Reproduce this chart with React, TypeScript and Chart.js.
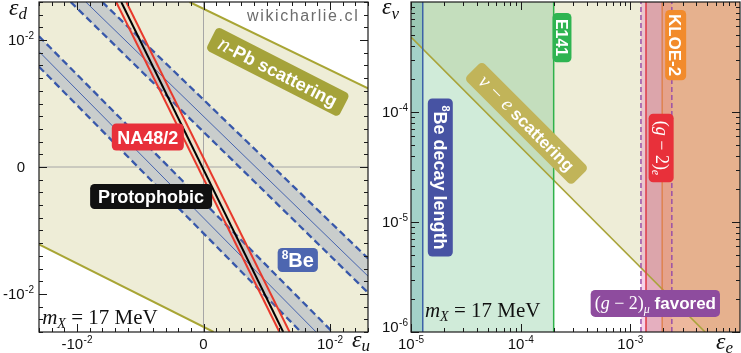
import React, { useEffect, useRef } from "react";
import { Chart, registerables } from "chart.js";
Chart.register(...registerables);

const SANS = '"Liberation Sans", Arial, Helvetica, sans-serif';
const SERIF = '"Liberation Serif", "Times New Roman", serif';

// ================= Left panel: (eps_u, eps_d) =================
const epsRange = [-0.013, 0.013];
const epsTickValues = [-0.01, 0, 0.01];
const epsTickLabels = ["-10^-2", "0", "10^-2"];

// n-Pb scattering boundaries (allowed region between them)
const nPbUpper = [{ x: -0.0011, y: 0.013 }, { x: 0.013, y: 0.0062 }];
const nPbLower = [{ x: -0.013, y: -0.0061 }, { x: 0.0008, y: -0.013 }];
// protophobic line and NA48/2 boundaries
const protophobic = [{ x: -0.0065, y: 0.013 }, { x: 0.0063, y: -0.013 }];
const na48Left = [{ x: -0.0069, y: 0.013 }, { x: 0.006, y: -0.013 }];
const na48Right = [{ x: -0.0061, y: 0.013 }, { x: 0.0068, y: -0.013 }];
// 8Be bands
const be8UpperEdgeA = [{ x: -0.0105, y: 0.013 }, { x: 0.013, y: -0.0099 }];
const be8UpperCenter = [{ x: -0.0093, y: 0.013 }, { x: 0.013, y: -0.0086 }];
const be8UpperEdgeB = [{ x: -0.008, y: 0.013 }, { x: 0.013, y: -0.0072 }];
const be8LowerEdgeA = [{ x: -0.013, y: 0.0103 }, { x: 0.0102, y: -0.013 }];
const be8LowerCenter = [{ x: -0.013, y: 0.0091 }, { x: 0.0089, y: -0.013 }];
const be8LowerEdgeB = [{ x: -0.013, y: 0.0079 }, { x: 0.0077, y: -0.013 }];

// ================= Right panel: (eps_e, eps_nu) =================
const eeRange = [1e-5, 1e-2];
const enuRange = [1e-6, 1e-3];
const eeTickValues = [1e-5, 1e-4, 1e-3];
const eeTickLabels = ["10^-5", "10^-4", "10^-3"];
const enuTickValues = [1e-6, 1e-5, 1e-4];
const enuTickLabels = ["10^-6", "10^-5", "10^-4"];
const nuEScattering = [{ x: 1e-5, y: 4.8e-4 }, { x: 4.8e-3, y: 1e-6 }];
const be8DecayLengthMax = 1.28e-5;
const e141Max = 2.0e-4;
const g2eMin = 1.39e-3;
const kloe2Min = 1.95e-3;
const g2muFavored = [1.25e-3, 2.39e-3];

// ================= annotations (data coordinates) =================
const leftTags = [
  { at: { x: -0.0044, y: 0.00236 }, angle: 0, bg: "#e8303a", padX: 5.5, h: 27, base: 6.5,
    segs: [{ t: "NA48/2", font: `bold 18px ${SANS}` }] },
  { at: { x: -0.00414, y: -0.00232 }, angle: 0, bg: "#111111", padX: 8, h: 25, base: 6.5,
    segs: [{ t: "Protophobic", font: `bold 18px ${SANS}` }] },
  { at: { x: 0.00745, y: -0.00733 }, angle: 0, bg: "#4d66b0", padX: 4, h: 24, base: 7,
    segs: [{ t: "8", font: `bold 12px ${SANS}`, dy: -8 }, { t: "Be", font: `bold 20px ${SANS}` }] },
  { at: { x: 0.00587, y: 0.00749 }, angle: 27, bg: "#a5a33a", padX: 9, h: 26, base: 6.5,
    segs: [{ t: "n", font: `italic 22px ${SERIF}` }, { t: "-Pb scattering", font: `bold 18px ${SANS}` }] },
];
const rightTags = [
  { at: { x: 2.38e-4, y: 4.75e-4 }, angle: 90, bg: "#2eb451", padX: 6, h: 19, base: 5.8,
    segs: [{ t: "E141", font: `bold 16px ${SANS}` }] },
  { at: { x: 2.59e-3, y: 4.06e-4 }, angle: 90, bg: "#f28b2c", padX: 4, h: 21, base: 6.2,
    segs: [{ t: "KLOE-2", font: `bold 17px ${SANS}` }] },
  { at: { x: 1.91e-3, y: 4.71e-5 }, angle: 90, bg: "#e8303a", padX: 7, h: 25, base: 5.5,
    segs: [
      { t: "(", font: `18px ${SERIF}` }, { t: "g", font: `italic 18px ${SERIF}` },
      { t: " \u2212 2)", font: `18px ${SERIF}` }, { t: "e", font: `italic 12px ${SERIF}`, dy: 4 },
    ] },
  { at: { x: 1.85e-5, y: 2.54e-5 }, angle: 90, bg: "#4753a3", padX: 7, h: 25, base: 6.5,
    segs: [{ t: "8", font: `bold 11px ${SANS}`, dy: -8 }, { t: "Be decay length", font: `bold 18px ${SANS}` }] },
  { at: { x: 1.13e-4, y: 7.89e-5 }, angle: 45, bg: "#c1b459", padX: 12, h: 25, base: 6,
    segs: [{ t: "\u03bd \u2212 e", font: `italic 20px ${SERIF}` }, { t: " scattering", font: `bold 17px ${SANS}` }] },
  { at: { x: 1.69e-3, y: 1.82e-6 }, angle: 0, bg: "#8e4c9e", padX: 4, h: 27, base: 6,
    segs: [
      { t: "(", font: `18px ${SERIF}` }, { t: "g", font: `italic 18px ${SERIF}` },
      { t: " \u2212 2)", font: `18px ${SERIF}` }, { t: "\u03bc", font: `italic 12px ${SERIF}`, dy: 4 },
      { t: " favored", font: `bold 17px ${SANS}` },
    ] },
];
const massTextLeft = { x: -0.01275, y: -0.01237 };
const massTextRight = { x: 1.34e-5, y: 1.37e-6 };
const watermark = { x: 0.00788, y: 0.01147 };

// ================= helpers =================
const lineDs = (data: any[], color: string, width: number, dash: number[] = []) => ({
  data, showLine: true, borderColor: color, borderWidth: width, borderDash: dash,
  pointRadius: 0, pointHoverRadius: 0, fill: false, tension: 0,
});
const areaDs = (data: any[], color: string) => ({
  data, showLine: true, borderColor: "rgba(0,0,0,0)", borderWidth: 0,
  pointRadius: 0, pointHoverRadius: 0, fill: "shape", backgroundColor: color, tension: 0,
});
const withOrder = (arr: any[]) => arr.map((d, i) => ({ ...d, order: arr.length - i }));
const vRect = (x0: number, x1: number, yr: number[]) => [
  { x: x0, y: yr[0] }, { x: x1, y: yr[0] }, { x: x1, y: yr[1] }, { x: x0, y: yr[1] },
];
const vLine = (x: number, yr: number[]) => [{ x, y: yr[0] }, { x, y: yr[1] }];

function roundRect(ctx: any, x: number, y: number, w: number, h: number, r: number) {
  ctx.beginPath();
  ctx.moveTo(x + r, y);
  ctx.lineTo(x + w - r, y);
  ctx.arcTo(x + w, y, x + w, y + r, r);
  ctx.lineTo(x + w, y + h - r);
  ctx.arcTo(x + w, y + h, x + w - r, y + h, r);
  ctx.lineTo(x + r, y + h);
  ctx.arcTo(x, y + h, x, y + h - r, r);
  ctx.lineTo(x, y + r);
  ctx.arcTo(x, y, x + r, y, r);
  ctx.closePath();
}

function drawSegs(ctx: any, segs: any[], x: number, y: number) {
  for (const s of segs) {
    ctx.font = s.font;
    ctx.fillText(s.t, x, y + (s.dy || 0));
    x += ctx.measureText(s.t).width;
  }
}

function drawTag(ctx: any, x: number, y: number, tag: any) {
  ctx.save();
  ctx.translate(x, y);
  ctx.rotate((tag.angle * Math.PI) / 180);
  let w = 0;
  for (const s of tag.segs) { ctx.font = s.font; w += ctx.measureText(s.t).width; }
  const W = w + 2 * tag.padX;
  ctx.fillStyle = tag.bg;
  roundRect(ctx, -W / 2, -tag.h / 2, W, tag.h, 4.5);
  ctx.fill();
  ctx.fillStyle = "#ffffff";
  ctx.textAlign = "left";
  ctx.textBaseline = "alphabetic";
  drawSegs(ctx, tag.segs, -w / 2, tag.base);
  ctx.restore();
}

const TICK_FONT = `15px ${SANS}`;
const EXP_FONT = `10px ${SANS}`;
function drawTickLabel(ctx: any, label: string, x: number, base: number, align: string) {
  const [b, e] = label.split("^");
  ctx.font = TICK_FONT;
  const wb = ctx.measureText(b).width;
  ctx.font = EXP_FONT;
  const we = e ? ctx.measureText(e).width + 0.5 : 0;
  const total = wb + we;
  const x0 = align === "center" ? x - total / 2 : x - total;
  ctx.textAlign = "left";
  ctx.textBaseline = "alphabetic";
  ctx.fillStyle = "#111";
  ctx.font = TICK_FONT;
  ctx.fillText(b, x0, base);
  if (e) { ctx.font = EXP_FONT; ctx.fillText(e, x0 + wb + 0.5, base - 6.5); }
}

function drawTicks(ctx: any, chart: any, xs: number[], ys: number[], len: number) {
  const a = chart.chartArea;
  const X = chart.scales.x, Y = chart.scales.y;
  ctx.beginPath();
  for (const v of xs) {
    const p = Math.round(X.getPixelForValue(v)) + 0.5;
    ctx.moveTo(p, a.bottom); ctx.lineTo(p, a.bottom - len);
    ctx.moveTo(p, a.top); ctx.lineTo(p, a.top + len);
  }
  for (const v of ys) {
    const p = Math.round(Y.getPixelForValue(v)) + 0.5;
    ctx.moveTo(a.left, p); ctx.lineTo(a.left + len, p);
    ctx.moveTo(a.right, p); ctx.lineTo(a.right - len, p);
  }
  ctx.stroke();
}

function drawFrame(ctx: any, a: any) {
  ctx.strokeStyle = "#1a1a1a";
  ctx.lineWidth = 1.2;
  ctx.strokeRect(a.left, a.top, a.right - a.left, a.bottom - a.top);
}

const axisOpt = (type: string, range: number[], size: number, horizontal: boolean) => ({
  type, min: range[0], max: range[1],
  grid: { display: false }, border: { display: false }, ticks: { display: false },
  afterFit: (s: any) => { if (horizontal) s.height = size; else s.width = size; },
});

const commonOptions = (xAxis: any, yAxis: any, padRight: number) => ({
  animation: false, responsive: false, events: [],
  layout: { padding: { top: 2, right: padRight, left: 0, bottom: 0 } },
  plugins: { legend: { display: false }, tooltip: { enabled: false } },
  scales: { x: xAxis, y: yAxis },
});

// ================= left chart =================
const leftDecor = {
  id: "leftDecor",
  afterDraw(chart: any) {
    const ctx = chart.ctx;
    const a = chart.chartArea;
    const X = chart.scales.x, Y = chart.scales.y;
    ctx.save();
    const minor: number[] = [];
    for (let i = -13; i <= 13; i++) if (i % 10 !== 0) minor.push(i / 1000);
    ctx.strokeStyle = "#1a1a1a";
    ctx.lineWidth = 1;
    drawTicks(ctx, chart, epsTickValues, epsTickValues, 8);
    drawTicks(ctx, chart, minor, minor, 4);
    drawFrame(ctx, a);
    epsTickValues.forEach((v, i) => {
      drawTickLabel(ctx, epsTickLabels[i], X.getPixelForValue(v), a.bottom + 17, "center");
      const hasExp = epsTickLabels[i].includes("^");
      drawTickLabel(ctx, epsTickLabels[i], a.left - 5 - (hasExp ? 0 : 9), Y.getPixelForValue(v) + 5.4, "right");
    });
    // axis titles
    ctx.fillStyle = "#111";
    drawSegs(ctx, [{ t: "\u03b5", font: `italic 24px ${SERIF}` }, { t: "d", font: `italic 17px ${SERIF}`, dy: 4 }], a.left - 30, a.top + 13);
    drawSegs(ctx, [{ t: "\u03b5", font: `italic 24px ${SERIF}` }, { t: "u", font: `italic 17px ${SERIF}`, dy: 4 }], a.right - 16, a.bottom + 15);
    // mass text
    drawSegs(ctx, [
      { t: "m", font: `italic 21px ${SERIF}` }, { t: "X", font: `italic 14px ${SERIF}`, dy: 4 },
      { t: " = 17 MeV", font: `21px ${SERIF}` },
    ], X.getPixelForValue(massTextLeft.x), Y.getPixelForValue(massTextLeft.y));
    // watermark
    ctx.fillStyle = "#6c6c6c";
    ctx.font = `16px ${SANS}`;
    ctx.textAlign = "center";
    try { ctx.letterSpacing = "1.6px"; } catch (e) {}
    ctx.fillText("wikicharlie.cl", X.getPixelForValue(watermark.x), Y.getPixelForValue(watermark.y));
    try { ctx.letterSpacing = "0px"; } catch (e) {}
    for (const t of leftTags) drawTag(ctx, X.getPixelForValue(t.at.x), Y.getPixelForValue(t.at.y), t);
    ctx.restore();
  },
};

function buildLeft() {
  const [lo, hi] = epsRange;
  const allowed = [{ x: lo, y: hi }, nPbUpper[0], nPbUpper[1], { x: hi, y: lo }, nPbLower[1], nPbLower[0]];
  const band = (a: any[], b: any[]) => [a[0], a[1], b[1], b[0]];
  const BLUE = "#3858aa";
  const OLIVE = "#a8a534";
  const RED = "#e8392c";
  const DASH = [7, 4];
  const datasets = withOrder([
    areaDs(allowed, "#eeedd7"),
    lineDs([{ x: 0, y: lo }, { x: 0, y: hi }], "#a6a6a6", 1),
    lineDs([{ x: lo, y: 0 }, { x: hi, y: 0 }], "#a6a6a6", 1),
    areaDs(band(be8UpperEdgeA, be8UpperEdgeB), "#c9cdcc"),
    areaDs(band(be8LowerEdgeA, be8LowerEdgeB), "#c9cdcc"),
    lineDs(be8UpperCenter, BLUE, 0.9),
    lineDs(be8LowerCenter, BLUE, 0.9),
    lineDs(be8UpperEdgeA, BLUE, 2.3, DASH),
    lineDs(be8UpperEdgeB, BLUE, 2.3, DASH),
    lineDs(be8LowerEdgeA, BLUE, 2.3, DASH),
    lineDs(be8LowerEdgeB, BLUE, 2.3, DASH),
    lineDs(nPbUpper, OLIVE, 2),
    lineDs(nPbLower, OLIVE, 2),
    areaDs(band(na48Left, na48Right), "rgba(240,150,120,0.14)"),
    lineDs(na48Left, RED, 2),
    lineDs(na48Right, RED, 2),
    lineDs(protophobic, "#000000", 2),
  ]);
  return {
    type: "scatter",
    data: { datasets },
    options: commonOptions(axisOpt("linear", epsRange, 21, true), axisOpt("linear", epsRange, 39, false), 2),
    plugins: [leftDecor],
  };
}

// ================= right chart =================
const rightDecor = {
  id: "rightDecor",
  afterDraw(chart: any) {
    const ctx = chart.ctx;
    const a = chart.chartArea;
    const X = chart.scales.x, Y = chart.scales.y;
    ctx.save();
    const xm: number[] = [], ym: number[] = [];
    for (const d of eeTickValues) for (let k = 2; k <= 9; k++) xm.push(k * d);
    for (const d of enuTickValues) for (let k = 2; k <= 9; k++) ym.push(k * d);
    ctx.strokeStyle = "#1a1a1a";
    ctx.lineWidth = 1;
    drawTicks(ctx, chart, eeTickValues, enuTickValues, 8);
    drawTicks(ctx, chart, xm, ym, 4);
    drawFrame(ctx, a);
    eeTickValues.forEach((v, i) => drawTickLabel(ctx, eeTickLabels[i], X.getPixelForValue(v), a.bottom + 17, "center"));
    enuTickValues.forEach((v, i) => {
      const p = Math.min(Y.getPixelForValue(v), a.bottom - 5);
      drawTickLabel(ctx, enuTickLabels[i], a.left - 3, p + 5.4, "right");
    });
    ctx.fillStyle = "#111";
    drawSegs(ctx, [{ t: "\u03b5", font: `italic 24px ${SERIF}` }, { t: "\u03bd", font: `italic 17px ${SERIF}`, dy: 5 }], a.left - 29, a.top + 12);
    drawSegs(ctx, [{ t: "\u03b5", font: `italic 24px ${SERIF}` }, { t: "e", font: `italic 17px ${SERIF}`, dy: 4 }], a.right - 24, a.bottom + 17);
    drawSegs(ctx, [
      { t: "m", font: `italic 21px ${SERIF}` }, { t: "X", font: `italic 14px ${SERIF}`, dy: 4 },
      { t: " = 17 MeV", font: `21px ${SERIF}` },
    ], X.getPixelForValue(massTextRight.x), Y.getPixelForValue(massTextRight.y));
    for (const t of rightTags) drawTag(ctx, X.getPixelForValue(t.at.x), Y.getPixelForValue(t.at.y), t);
    ctx.restore();
  },
};

function buildRight() {
  const [xl, xh] = eeRange;
  const [yl, yh] = enuRange;
  const excludedNuE = [nuEScattering[0], nuEScattering[1], { x: xh, y: yl }, { x: xh, y: yh }, { x: xl, y: yh }];
  const datasets = withOrder([
    areaDs(excludedNuE, "#eeedd7"),
    areaDs(vRect(xl, e141Max, enuRange), "rgba(100,190,128,0.3)"),
    areaDs(vRect(xl, be8DecayLengthMax, enuRange), "rgba(60,150,160,0.3)"),
    areaDs(vRect(g2muFavored[0], g2muFavored[1], enuRange), "rgba(225,110,185,0.3)"),
    areaDs(vRect(g2eMin, xh, enuRange), "rgba(190,90,90,0.3)"),
    areaDs(vRect(kloe2Min, xh, enuRange), "rgba(240,160,100,0.45)"),
    lineDs(nuEScattering, "#a9a43a", 1.6),
    lineDs(vLine(be8DecayLengthMax, enuRange), "#3d62a8", 1.5),
    lineDs(vLine(e141Max, enuRange), "#2fb24a", 1.5),
    lineDs(vLine(g2eMin, enuRange), "#e0404c", 1.6),
    lineDs(vLine(kloe2Min, enuRange), "#de7a3e", 1.2),
    lineDs(vLine(g2muFavored[0], enuRange), "#9a52a8", 1.5, [5, 3]),
    lineDs(vLine(g2muFavored[1], enuRange), "#9a52a8", 1.5, [5, 3]),
  ]);
  return {
    type: "scatter",
    data: { datasets },
    options: commonOptions(axisOpt("logarithmic", eeRange, 21, true), axisOpt("logarithmic", enuRange, 41, false), 1),
    plugins: [rightDecor],
  };
}

function Panel({ build, width, left }: any) {
  const ref = useRef<HTMLCanvasElement | null>(null);
  useEffect(() => {
    const chart = new Chart(ref.current as any, build());
    return () => chart.destroy();
  }, []);
  return (
    <canvas ref={ref} width={width} height={353}
      style={{ position: "absolute", left, top: 0, width, height: 353 }} />
  );
}

export default function App() {
  return (
    <div style={{ position: "absolute", left: 0, top: 0, width: 741, height: 353, background: "#fff", overflow: "hidden" }}>
      <Panel build={buildLeft} width={370} left={0} />
      <Panel build={buildRight} width={371} left={370} />
    </div>
  );
}
